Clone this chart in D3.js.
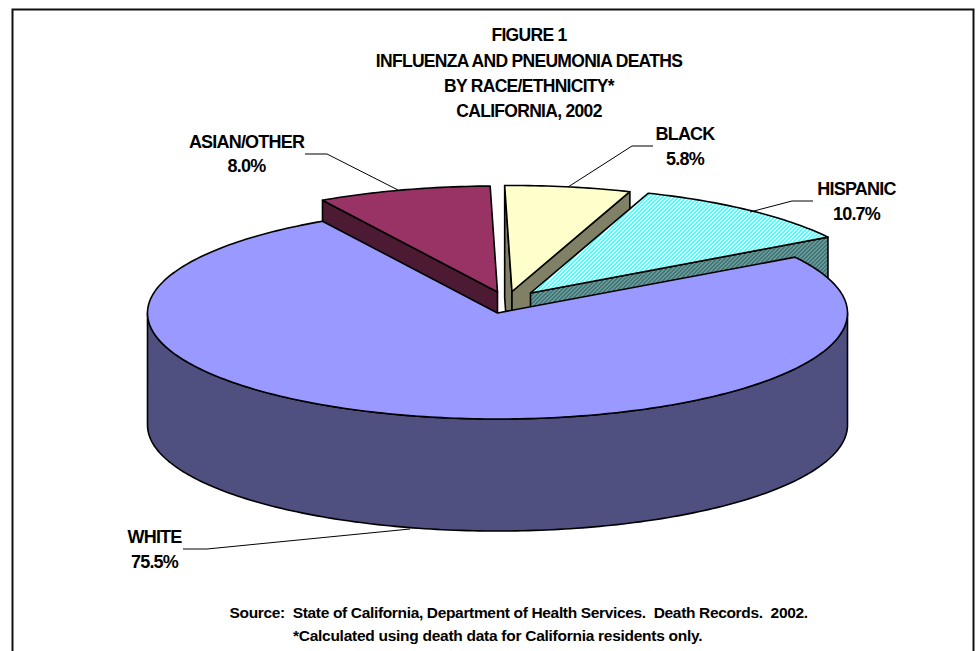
<!DOCTYPE html>
<html>
<head>
<meta charset="utf-8">
<script src="https://cdn.jsdelivr.net/npm/d3@7"></script>
<style>
html,body{margin:0;padding:0;background:#fff;overflow:hidden}
svg{display:block}
text{font-family:"Liberation Sans",Arial,sans-serif;font-weight:700;fill:#000;white-space:pre}
</style>
</head>
<body>
<svg id="c" width="978" height="651"></svg>
<script>
// Data
const categories = ["WHITE", "ASIAN/OTHER", "BLACK", "HISPANIC"];
const values = [75.5, 8.0, 5.8, 10.7];
const valueLabels = ["75.5%", "8.0%", "5.8%", "10.7%"];
const titleLines = ["FIGURE 1", "INFLUENZA AND PNEUMONIA DEATHS", "BY RACE/ETHNICITY*", "CALIFORNIA, 2002"];
const sourceLines = ["Source:  State of California, Department of Health Services.  Death Records.  2002.", "*Calculated using death data for California residents only."];

// Style and layout
const topFill = {"WHITE":"#9999FF","ASIAN/OTHER":"#993366","BLACK":"#FFFFCC","HISPANIC":"url(#hatchTop)"};
const sideFill = {"WHITE":"#4F4F80","ASIAN/OTHER":"#4D1A33","BLACK":"#808066","HISPANIC":"url(#hatchSide)"};
const offset = {"WHITE":[0,0],"ASIAN/OTHER":[0,-21],"BLACK":[14.5,-21.5],"HISPANIC":[33,-20]};
const labelPos = {
  "WHITE":{x:154.5,y:[543,568],leader:[[183,549],[207,549],[410,529]]},
  "ASIAN/OTHER":{x:246.5,y:[148,172],leader:[[305,154],[327,154],[398,190]]},
  "BLACK":{x:685,y:[140,165],leader:[[568,187],[632,146],[653,146]]},
  "HISPANIC":{x:856.5,y:[195,220],leader:[[750,212],[792,201],[813,201]]}
};
const cx = 497.5, cy = 313, rx = 350, ry = 106, depth = 112;
const startDeg = 58.2;
const paintOrder = ["ASIAN/OTHER","BLACK","HISPANIC","WHITE"];

const svg = d3.select("#c");
const defs = svg.append("defs");
function hatch(id, a, b){
  const p = defs.append("pattern").attr("id",id).attr("width",4).attr("height",4).attr("patternUnits","userSpaceOnUse");
  p.append("rect").attr("width",4).attr("height",4).attr("fill",a);
  d3.cross(d3.range(4),d3.range(4)).filter(([x,y])=>(x+y)%4<2).forEach(([x,y])=>{
    p.append("rect").attr("x",x).attr("y",y).attr("width",1).attr("height",1).attr("fill",b);
  });
}
hatch("hatchTop","#4DFFFF","#D9FFFF");
hatch("hatchSide","#3C7878","#6E9696");

// frame (bottom edge runs off the picture)
svg.append("rect").attr("x",12.5).attr("y",9.5).attr("width",961).attr("height",700)
  .attr("fill","#fff").attr("stroke","#111").attr("stroke-width",2);

const pie = d3.pie().sort(null).value(d=>d.value)
  .startAngle(startDeg*Math.PI/180).endAngle(startDeg*Math.PI/180+2*Math.PI);
const arcs = pie(categories.map((c,i)=>({name:c,value:values[i]})));
const byName = Object.fromEntries(arcs.map(a=>[a.data.name,a]));
const line = d3.line();
const pt = (o,t,dy=0)=>[cx+o[0]+rx*Math.sin(t), cy+o[1]+dy-ry*Math.cos(t)];
const sweep = (a,b,o,dy=0)=>{
  const n = Math.max(2,Math.ceil(Math.abs(b-a)*180/Math.PI));
  return d3.range(n+1).map(i=>pt(o,a+(b-a)*i/n,dy));
};

const g = svg.append("g").attr("stroke","#000").attr("stroke-width",1.6).attr("stroke-linejoin","round");
paintOrder.forEach(name=>{
  const a = byName[name], o = offset[name];
  const tip = [cx+o[0],cy+o[1]];
  // cut faces that look towards the viewer
  [[a.startAngle,-1],[a.endAngle,1]].forEach(([t,side])=>{
    if(side*Math.sin(t)<=0) return;
    const p = pt(o,t);
    g.append("path").attr("fill",sideFill[name])
      .attr("d",line([tip,p,[p[0],p[1]+depth],[tip[0],tip[1]+depth]])+"Z");
  });
  // outer wall, front half only
  const lo = Math.max(a.startAngle,Math.PI/2), hi = Math.min(a.endAngle,1.5*Math.PI);
  if(hi>lo){
    g.append("path").attr("fill",sideFill[name])
      .attr("d",line(sweep(lo,hi,o).concat(sweep(hi,lo,o,depth)))+"Z");
  }
  // top face
  g.append("path").attr("fill",topFill[name])
    .attr("d",line([tip].concat(sweep(a.startAngle,a.endAngle,o)))+"Z");
});

// leaders and labels
categories.forEach((c,i)=>{
  const l = labelPos[c];
  svg.append("path").attr("fill","none").attr("stroke","#000").attr("stroke-width",1).attr("d",line(l.leader));
  [c,valueLabels[i]].forEach((s,k)=>{
    svg.append("text").attr("x",l.x).attr("y",l.y[k]).attr("text-anchor","middle")
      .attr("font-size",18).attr("letter-spacing",-0.8).text(s);
  });
});

// title
const titleY = [40.5,66.5,91.5,116.5];
titleLines.forEach((s,i)=>{
  svg.append("text").attr("x",529).attr("y",titleY[i]).attr("text-anchor","middle")
    .attr("font-size",17.5).attr("letter-spacing",-0.7).text(s);
});

// source
const srcX = [229.5,293], srcY = [618,641], srcSpacing = [-0.34,-0.27];
sourceLines.forEach((s,i)=>{
  svg.append("text").attr("x",srcX[i]).attr("y",srcY[i])
    .attr("font-size",15.5).attr("letter-spacing",srcSpacing[i]).text(s);
});
</script>
</body>
</html>
